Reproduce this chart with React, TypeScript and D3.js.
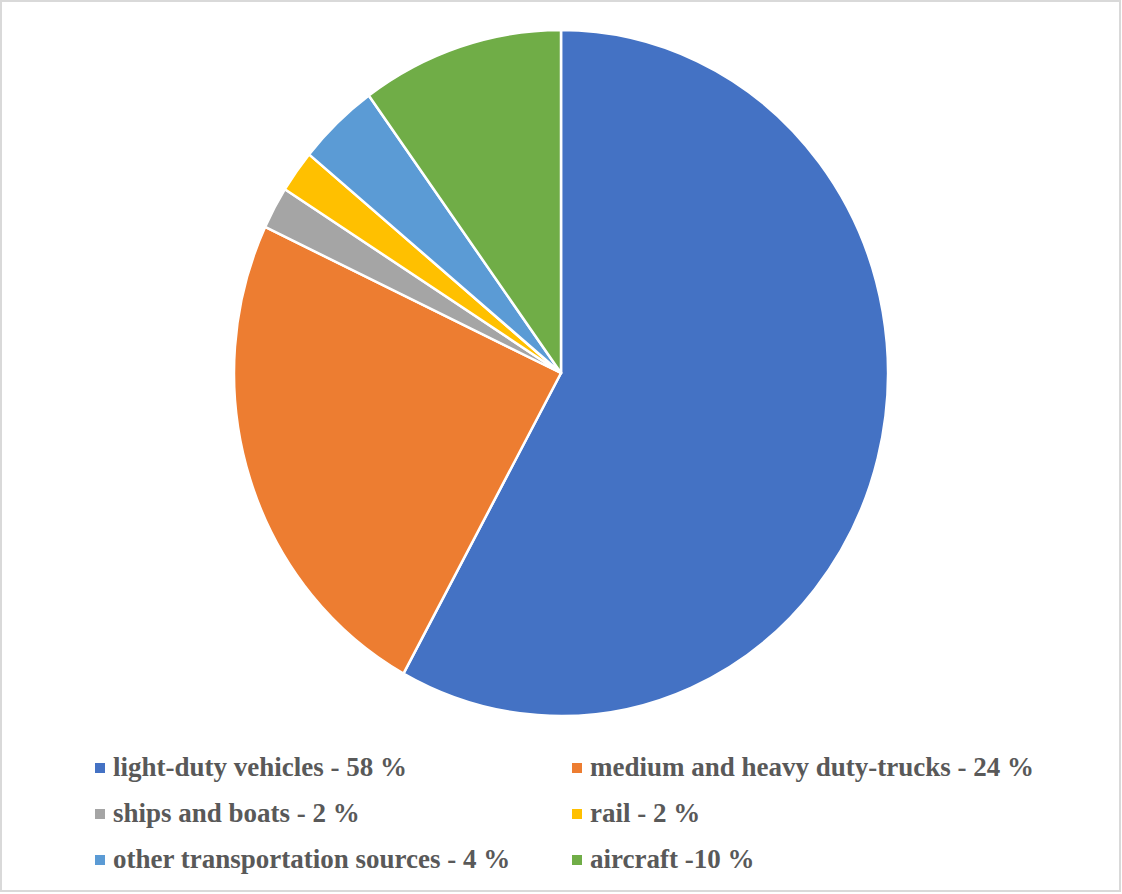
import React from "react";
import * as d3 from "d3";

const categories = [
  "light-duty vehicles - 58 %",
  "medium and heavy duty-trucks - 24 %",
  "ships and boats - 2 %",
  "rail - 2 %",
  "other transportation sources - 4 %",
  "aircraft -10 %",
];
const values = [58, 24, 2, 2, 4, 10];
const colors = ["#4472C4", "#ED7D31", "#A5A5A5", "#FFC000", "#5B9BD5", "#70AD47"];

const W = 1122;
const H = 894;
const cx = 561;
const cy = 373;
const rx = 327;
const ry = 343;

export default function App() {
  const pie = d3.pie<number>().sort(null).value((d) => d);
  const arcs = pie(values);
  const arc = d3.arc<d3.PieArcDatum<number>>().innerRadius(0).outerRadius(ry);

  const legendCols = [95, 572];
  const legendRows = [776, 822, 868];

  return (
    <svg
      width={W}
      height={H}
      style={{ position: "absolute", left: 0, top: 0, background: "#fff" }}
    >
      <rect x={1} y={1} width={1119} height={890} fill="#fff" stroke="#d9d9d9" strokeWidth={2} />
      <g transform={`translate(${cx},${cy}) scale(${rx / ry},1)`}>
        {arcs.map((a, i) => (
          <path
            key={i}
            d={arc(a) || ""}
            fill={colors[i]}
            stroke="#fff"
            strokeWidth={2.5}
            vectorEffect="non-scaling-stroke"
            strokeLinejoin="round"
          />
        ))}
      </g>
      {categories.map((c, i) => {
        const col = i % 2;
        const row = Math.floor(i / 2);
        const x = legendCols[col];
        const y = legendRows[row];
        return (
          <g key={c}>
            <rect x={x} y={y - 13} width={10} height={10} fill={colors[i]} />
            <text
              x={x + 18}
              y={y}
              fontFamily="'Liberation Serif', 'Times New Roman', serif"
              fontWeight="bold"
              fontSize={27}
              fill="#595959"
            >
              {c}
            </text>
          </g>
        );
      })}
    </svg>
  );
}
